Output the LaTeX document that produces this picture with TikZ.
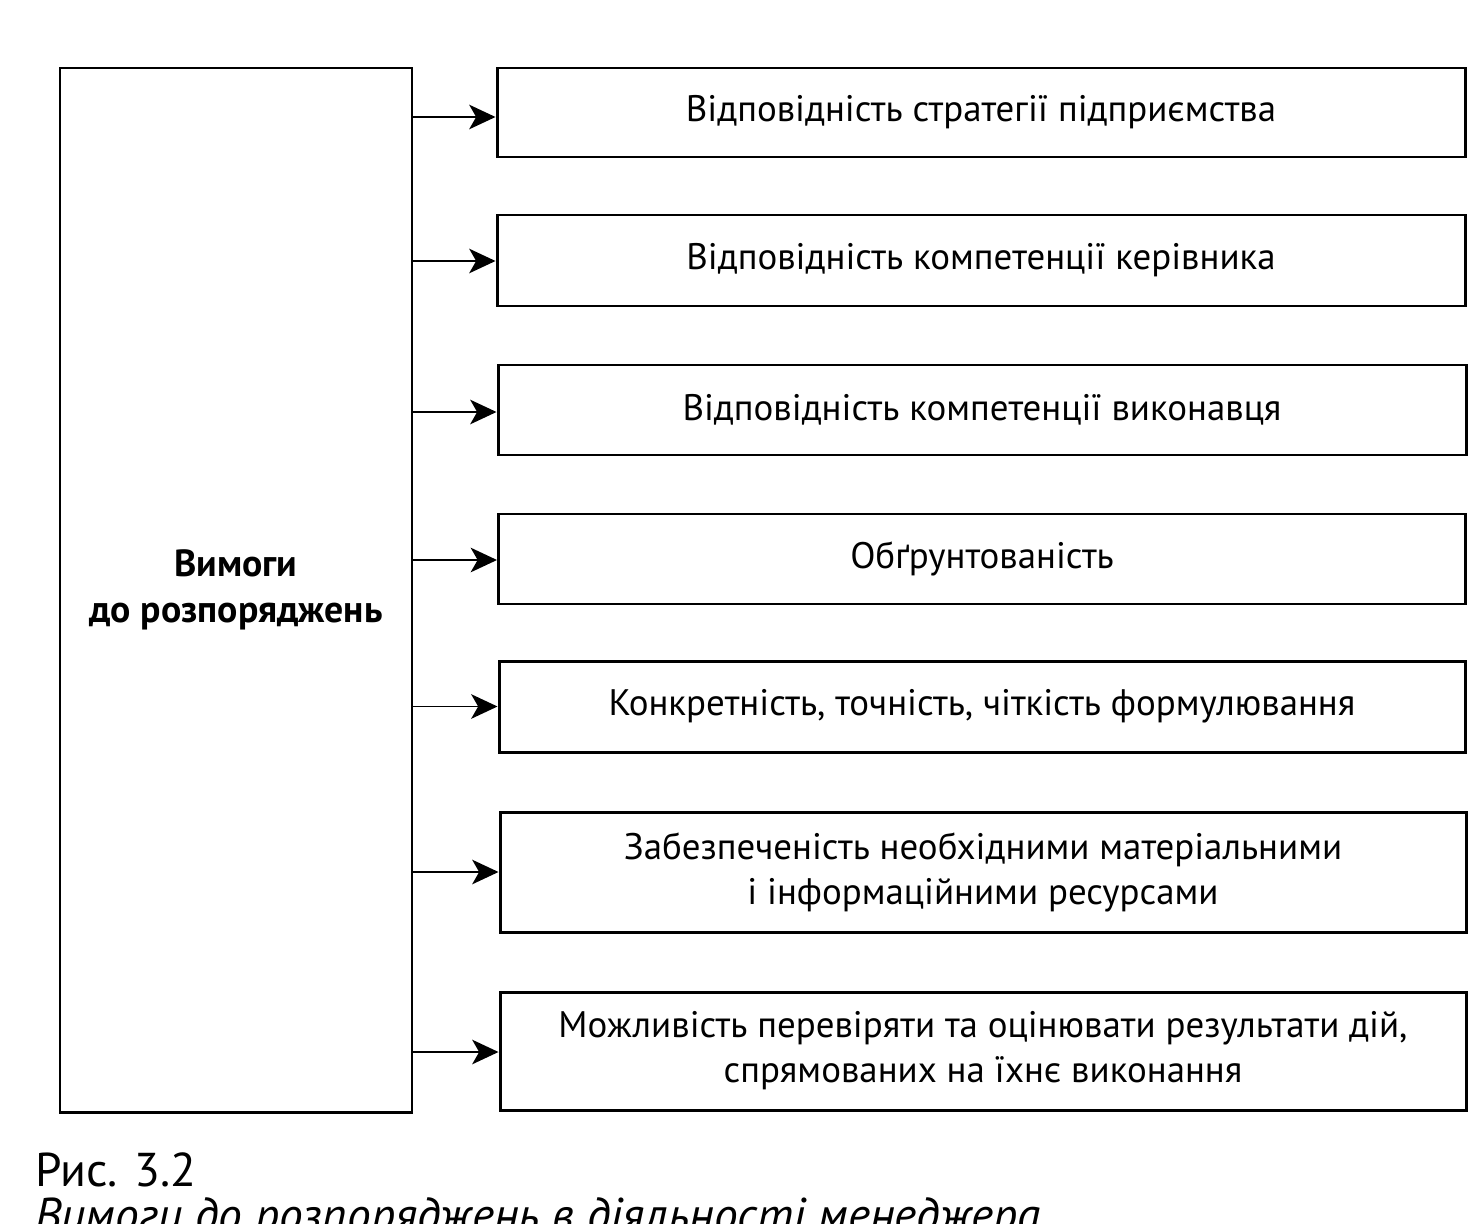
\documentclass[tikz,border=0pt]{standalone}
\usepackage{fontspec}
\setmainfont{PT Sans}
\usetikzlibrary{arrows.meta}
\tikzset{
  box/.style={draw, line width=1.7pt, inner sep=0pt, align=center,
    font=\fontsize{21}{25.5}\selectfont},
  conn/.style={line width=1.1pt, -{Stealth[length=15pt,width=14pt,inset=4pt]}},
}
\begin{document}
\begin{tikzpicture}[x=0.02cm,y=-0.02cm]
\clip (0,0) rectangle (1473,1223);
\fill[white] (0,0) rectangle (1473,1223);
\node[box, minimum width=352*0.02cm, minimum height=1044*0.02cm,
  font=\fontsize{21.5}{26}\selectfont\bfseries] (L) at (236,590) {Вимоги\\до розпоряджень};
\node[box, minimum width=968*0.02cm, minimum height=89*0.02cm] (b1) at (981,112.5) {Відповідність стратегії підприємства};
\node[box, minimum width=968*0.02cm, minimum height=91*0.02cm] (b2) at (981,260.5) {Відповідність компетенції керівника};
\node[box, minimum width=968*0.02cm, minimum height=90*0.02cm] (b3) at (982,410) {Відповідність компетенції виконавця};
\node[box, minimum width=967*0.02cm, minimum height=90*0.02cm] (b4) at (982,559) {Обґрунтованість};
\node[box, minimum width=966*0.02cm, minimum height=91*0.02cm] (b5) at (982,706.5) {Конкретність, точність, чіткість формулювання};
\node[box, minimum width=966*0.02cm, minimum height=120*0.02cm] (b6) at (983,872) {Забезпеченість необхідними матеріальними\\і інформаційними ресурсами};
\node[box, minimum width=966*0.02cm, minimum height=118*0.02cm] (b7) at (983,1051) {Можливість перевіряти та оцінювати результати дій,\\спрямованих на їхнє виконання};
\foreach \b/\dy in {b1/4.5,b2/0.5,b3/2,b4/1,b5/0,b6/0,b7/1}{
  \draw[conn] ([yshift=-\dy*0.02cm]L.east |- \b.west) -- ([yshift=-\dy*0.02cm]\b.west);
}
\node[anchor=base west, inner sep=0pt, font=\fontsize{27}{30}\selectfont] (cap) at (35,1186) {Рис. 3.2};
\node[anchor=base west, inner sep=0pt, font=\fontsize{27}{30}\selectfont\itshape] (capt) at (35,1231) {Вимоги до розпоряджень в діяльності менеджера};
\end{tikzpicture}
\end{document}
